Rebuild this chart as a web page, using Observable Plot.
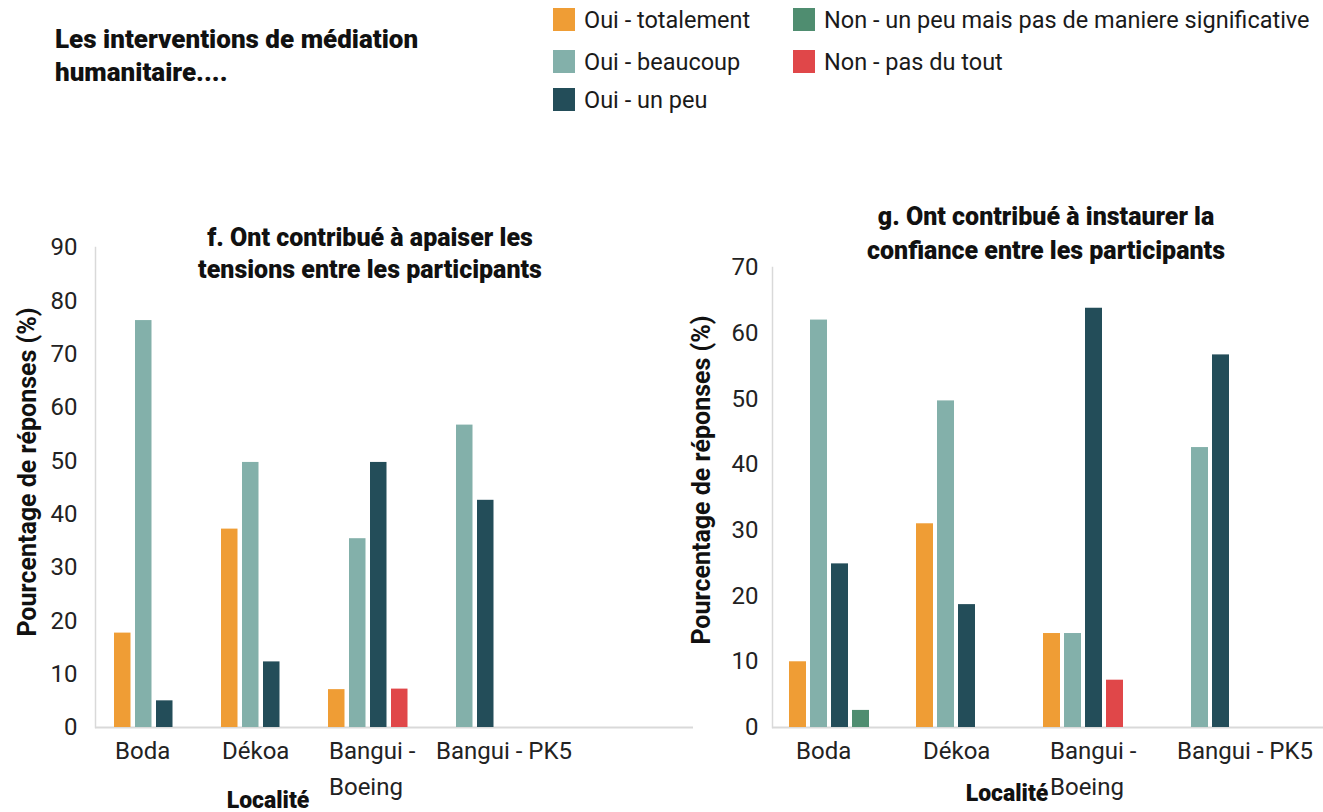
<!DOCTYPE html>
<html><head><meta charset="utf-8">
<script src="https://cdn.jsdelivr.net/npm/d3@7"></script>
<script src="https://cdn.jsdelivr.net/npm/@observablehq/plot@0.6"></script>
<style>
body{margin:0;background:#fff;width:1323px;height:812px;position:relative;overflow:hidden;font-family:Roboto,"Noto Sans",sans-serif;color:#111}
.abs{position:absolute;white-space:nowrap}
.heavy{font-weight:900;font-size:25px}
.sw{position:absolute;width:22px;height:23px}
.lg{position:absolute;font-size:23.5px;line-height:23px;color:#1a1a1a}
.chart{position:absolute;top:190px}
.ylab{font-weight:700;font-size:25px;transform:translate(-50%,-50%) rotate(-90deg)}
</style></head><body>
<div class="abs heavy" style="left:55px;top:23px;line-height:33px;font-size:26px">Les interventions de médiation<br>humanitaire....</div>
<div id="legend"></div>
<div id="f" class="chart" style="left:0"></div>
<div id="g" class="chart" style="left:700px"></div>
<div class="abs heavy" style="left:370px;top:222px;line-height:32px;text-align:center;transform:translateX(-50%)">f. Ont contribué à apaiser les<br>tensions entre les participants</div>
<div class="abs heavy" style="left:1046px;top:200px;line-height:34px;text-align:center;transform:translateX(-50%)">g. Ont contribué à instaurer la<br>confiance entre les participants</div>
<div class="abs ylab" style="left:27px;top:472px">Pourcentage de réponses (%)</div>
<div class="abs ylab" style="left:701px;top:480px">Pourcentage de réponses (%)</div>
<div class="abs heavy" style="left:268px;top:800px;font-size:23px;transform:translate(-50%,-50%)">Localité</div>
<div class="abs heavy" style="left:1007px;top:793px;font-size:23px;transform:translate(-50%,-50%)">Localité</div>
<script>
const categories = ["Boda", "Dékoa", "Bangui - Boeing", "Bangui - PK5"];
const tickLabels = ["Boda", "Dékoa", "Bangui -\nBoeing", "Bangui - PK5"];
const series = ["Oui - totalement", "Oui - beaucoup", "Oui - un peu", "Non - un peu mais pas de maniere significative", "Non - pas du tout"];
const colors = ["#EF9D35", "#83B0AA", "#234D59", "#4F8D70", "#E04749"];

// f. apaiser les tensions
const fTotalement = [17.7, 37.2, 7.1, null];
const fBeaucoup   = [76.3, 49.7, 35.4, 56.7];
const fUnPeu      = [5.0, 12.3, 49.7, 42.6];
const fNonUnPeu   = [null, null, null, null];
const fPasDuTout  = [null, null, 7.2, null];
const fTicks = [0, 10, 20, 30, 40, 50, 60, 70, 80, 90];

// g. instaurer la confiance
const gTotalement = [10.0, 31.0, 14.3, null];
const gBeaucoup   = [62.0, 49.7, 14.3, 42.6];
const gUnPeu      = [24.9, 18.7, 63.8, 56.7];
const gNonUnPeu   = [2.6, null, null, null];
const gPasDuTout  = [null, null, 7.2, null];
const gTicks = [0, 10, 20, 30, 40, 50, 60, 70];

// slot of each series inside a group (the two "Non" series share the 4th slot)
const slotOf = [0, 1, 2, 3, 3];

// legend
const legendPos = [[553, 8], [553, 50], [553, 88], [793, 8], [793, 50]];
const lg = document.getElementById("legend");
series.forEach((s, i) => {
  const [x, y] = legendPos[i];
  const sw = document.createElement("div");
  sw.className = "sw"; sw.style.left = x + "px"; sw.style.top = y + "px"; sw.style.background = colors[i];
  const t = document.createElement("div");
  t.className = "lg"; t.textContent = s; t.style.left = (x + 31) + "px"; t.style.top = (y + 1) + "px";
  lg.appendChild(sw); lg.appendChild(t);
});

function panel(values, o) {
  const rows = [];
  values.forEach((arr, i) => arr.forEach((v, j) => { if (v != null) rows.push({cat: categories[j], si: i, value: v}); }));
  const bars = series.map((s, i) => Plot.barY(rows.filter(d => d.si === i), {
    x: "cat", y: "value", fill: colors[i],
    insetLeft: o.offset + slotOf[i] * 21, insetRight: o.step - o.offset - slotOf[i] * 21 - 17
  }));
  return Plot.plot({
    width: o.width, height: 622,
    marginLeft: o.marginLeft, marginRight: o.marginRight, marginTop: o.marginTop, marginBottom: 85,
    x: {type: "band", domain: categories, range: [o.marginLeft, o.marginLeft + 4 * o.step], padding: 0, axis: null},
    y: {domain: [0, o.yMax], axis: null},
    style: {fontFamily: "Roboto, 'Noto Sans', sans-serif", fontSize: "24px", color: "#222", background: "transparent", overflow: "visible"},
    marks: [
      Plot.frame({anchor: "left", stroke: "#d9d9d9", strokeWidth: 1.5}),
      Plot.ruleY([0], {stroke: "#d9d9d9", strokeWidth: 2}),
      Plot.axisY({ticks: o.ticks, tickSize: 0, tickPadding: o.tickPadding, fontSize: 24, fill: "#222", label: null}),
      ...bars,
      Plot.text(tickLabels, {x: (d, i) => categories[i], y: 0, text: d => d, textAnchor: "start", lineAnchor: "top",
        dx: o.labelDx, dy: 6, lineHeight: 1.5, fontSize: 24, fill: "#222"})
    ]
  });
}

document.getElementById("f").appendChild(panel([fTotalement, fBeaucoup, fUnPeu, fNonUnPeu, fPasDuTout], {
  width: 700, marginLeft: 95, marginRight: 7, marginTop: 57, yMax: 90, ticks: fTicks,
  step: 107.5, offset: 18, tickPadding: 18, labelDx: -35
}));
document.getElementById("g").appendChild(panel([gTotalement, gBeaucoup, gUnPeu, gNonUnPeu, gPasDuTout], {
  width: 623, marginLeft: 72, marginRight: 0, marginTop: 77, yMax: 70, ticks: gTicks,
  step: 127, offset: 17, tickPadding: 14, labelDx: -40
}));
</script>
</body></html>
